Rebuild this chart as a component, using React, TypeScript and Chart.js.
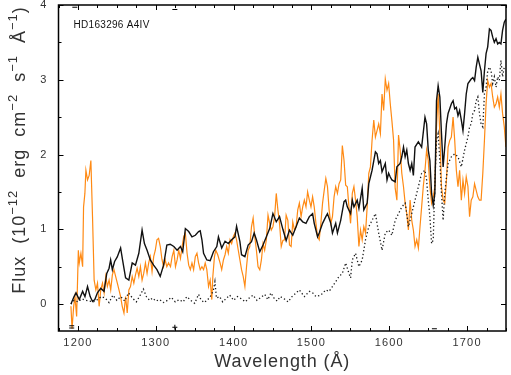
import React, { useEffect, useRef } from "react";
import { Chart, registerables } from "chart.js";

Chart.register(...registerables);

// ---------- data ----------
const starLabel = "HD163296 A4IV";
const xAxisTitle = "Wavelength (Å)";
const xTickValues = [1200, 1300, 1400, 1500, 1600, 1700];
const yTickValues = [0, 1, 2, 3, 4];
const xMin = 1175;
const xMax = 1750;
const yMin = -0.36;
const yMax = 4;

const blackWl = [
  1191, 1195, 1197.5, 1201.7, 1206, 1209, 1212.3, 1215.7, 1218.7, 1221.7, 1225, 1229.3, 1233.5, 1237, 1240, 1242,
  1244.2, 1247.1, 1250.5, 1254.8, 1257.3, 1261.2, 1265.4, 1269.7, 1273.9, 1278.2, 1282.4, 1285.4, 1288.8, 1293,
  1297.2, 1301.5, 1305.7, 1310, 1314.2, 1318.5, 1323.2, 1327.4, 1331.7, 1334.6, 1338, 1342.3, 1346.5, 1350.8, 1355,
  1357.1, 1359.3, 1361.4, 1365.6, 1369.9, 1374.1, 1378.4, 1380.5, 1384.7, 1389, 1393.2, 1397.5, 1401.7, 1403.8,
  1408.1, 1410.2, 1414.5, 1418.7, 1423, 1426.4, 1429.3, 1433.6, 1437.8, 1442.1, 1446.3, 1450.5, 1454.8, 1459, 1463.3,
  1467.5, 1471.8, 1476, 1480.3, 1484.5, 1488.8, 1493, 1497.3, 1501.5, 1503.6, 1507.9, 1510, 1514.3, 1518.5, 1520.6,
  1524.9, 1527, 1531.2, 1533.4, 1537.6, 1541.9, 1544, 1546.1, 1550.3, 1552.5, 1554.6, 1558.8, 1561, 1565.2, 1567.3,
  1571.6, 1573.7, 1577.9, 1582.2, 1584.3, 1586.4, 1588.6, 1590.7, 1594.9, 1597.1, 1599.2, 1601.3, 1603.4, 1607.6,
  1609.8, 1614, 1616.1, 1618.3, 1620.4, 1622.5, 1624.6, 1626.8, 1628.9, 1631, 1633.1, 1637.4, 1641.6, 1645.9, 1648,
  1650.1, 1652.2, 1654.4, 1656.5, 1658.6, 1660.7, 1662.8, 1665, 1667.1, 1669.2, 1671.3, 1673.5, 1675.6, 1679.8, 1682,
  1684.1, 1686.2, 1688.3, 1690.4, 1692.6, 1694.7, 1696.8, 1698.9, 1701.1, 1705.3, 1707.4, 1709.6, 1711.7, 1713.8,
  1715.9, 1718, 1720.2, 1722.3, 1724.4, 1726.5, 1728.7, 1730.8, 1732.9, 1735, 1737.2, 1739.3, 1741.4, 1743.5, 1745.6,
  1747.8, 1749.9,
];
const blackFlux = [
  0.0, 0.1, 0.15, 0.06, 0.17, 0.1, 0.235, 0.1, 0.035, 0.06, 0.15, 0.21, 0.17, 0.41, 0.48, 0.59,
  0.46, 0.57, 0.63, 0.75, 0.59, 0.35, 0.32, 0.55, 0.52, 0.68, 0.99, 0.81, 0.72, 0.59,
  0.52, 0.46, 0.37, 0.52, 0.79, 0.8, 0.77, 0.72, 0.77, 0.7, 1.01, 0.97, 0.9, 0.92, 0.97,
  0.98, 0.86, 0.68, 0.59, 0.58, 0.7, 0.77, 0.9, 0.75, 0.84, 0.81, 0.86, 0.9, 1.04,
  0.835, 0.66, 0.635, 0.79, 0.835, 0.95, 0.86, 0.7, 0.79, 0.9, 1.01, 1.21, 1.1, 1.17, 1.0,
  0.85, 0.99, 0.92, 1.035, 1.15, 1.1, 1.08, 1.17, 1.21, 1.08, 0.9, 0.95, 1.08, 1.17, 1.21,
  1.08, 0.95, 1.08, 0.95, 1.12, 1.37, 1.39, 1.3, 1.21, 1.39, 1.3, 1.39, 1.28, 1.55, 1.26,
  1.35, 1.61, 1.79, 2.035, 2.01, 1.88, 1.92, 1.77, 1.88, 1.66, 1.75, 1.7, 1.66, 1.635,
  1.835, 1.88, 1.97, 2.1, 1.97, 2.06, 1.88, 1.79, 1.88, 1.72, 2.1, 2.17, 2.1, 2.5, 2.41,
  2.06, 1.92, 1.48, 1.32, 1.48, 2.72, 2.92, 2.77, 2.28, 1.835, 2.1, 2.41, 2.55, 2.68, 2.72,
  2.61, 2.63, 2.52, 2.59, 2.46, 2.32, 2.55, 2.81, 2.95, 3.01, 3.03, 2.99, 3.17, 3.3,
  3.21, 3.12, 2.83, 3.12, 3.35, 3.44, 3.68, 3.66, 3.57, 3.5, 3.55, 3.48, 3.5, 3.48, 3.66,
  3.77, 3.81,
];

const orangeWl = [
  1191, 1192.4, 1194.5, 1196.2, 1198.3, 1200.5, 1201.7, 1203.8, 1206, 1207.2, 1208.9, 1210.2, 1212.3, 1214.4, 1216.6,
  1218.7, 1220.8, 1223, 1225.1, 1227.2, 1229.3, 1231.5, 1233.6, 1235.7, 1237.8, 1240, 1242.1, 1244.2, 1246.3, 1248.4,
  1250.6, 1252.7, 1254.8, 1256.9, 1259.1, 1261.2, 1263.3, 1265.4, 1267.5, 1269.7, 1271.8, 1273.9, 1276, 1278.2,
  1280.3, 1282.4, 1284.5, 1286.7, 1288.8, 1290.9, 1293, 1295.2, 1297.3, 1299.4, 1301.5, 1303.6, 1305.8, 1307.9, 1310,
  1312.1, 1314.2, 1316.4, 1318.9, 1321, 1323.2, 1325.3, 1327.4, 1329.5, 1331.7, 1333.8, 1335.9, 1338, 1340.2, 1342.3,
  1344.4, 1346.5, 1348.6, 1350.8, 1352.9, 1355, 1357.1, 1359.3, 1361.4, 1363.5, 1365.6, 1367.8, 1369.9, 1372, 1373.3,
  1375.4, 1377.1, 1379.6, 1382.6, 1384.7, 1386.9, 1389, 1391.1, 1393.2, 1395.4, 1397.5, 1399.6, 1401.7, 1403.8, 1406,
  1408.1, 1410.2, 1412.3, 1414.5, 1416.6, 1418.7, 1420.8, 1423, 1425.1, 1427.2, 1429.3, 1431.4, 1433.6, 1435.7,
  1437.8, 1439.9, 1442.1, 1444.2, 1446.3, 1448.4, 1450.5, 1452.7, 1454.8, 1456.9, 1459, 1461.2, 1463.3, 1465.4,
  1467.5, 1469.7, 1471.8, 1473.9, 1476, 1478.2, 1480.3, 1482.4, 1484.5, 1486.7, 1488.8, 1490.9, 1493, 1495.1, 1497.3,
  1499.4, 1501.5, 1503.6, 1505.8, 1507.9, 1510, 1512.1, 1514.3, 1516.4, 1518.5, 1520.6, 1522.7, 1524.9, 1527, 1529.1,
  1531.2, 1533.4, 1535.5, 1537.6, 1539.7, 1541.9, 1544, 1546.1, 1548.2, 1550.3, 1552.5, 1554.6, 1556.7, 1558.8, 1561,
  1563.1, 1565.2, 1567.3, 1569.5, 1571.6, 1573.7, 1575.8, 1577.9, 1580.1, 1582.2, 1584.3, 1586.4, 1588.6, 1590.7,
  1592.8, 1594.9, 1597.1, 1599.2, 1601.3, 1603.4, 1605.5, 1607.6, 1609.8, 1611.9, 1614, 1616.1, 1618.3, 1620.4,
  1622.5, 1624.6, 1626.8, 1628.9, 1631, 1633.1, 1635.3, 1637.4, 1639.5, 1641.6, 1643.7, 1645.9, 1648, 1650.1, 1652.2,
  1654.4, 1656.5, 1658.6, 1660.7, 1662.8, 1665, 1667.1, 1669.2, 1671.3, 1673.5, 1675.6, 1677.7, 1679.8, 1682, 1684.1,
  1686.2, 1688.3, 1690.4, 1692.6, 1694.7, 1696.8, 1698.9, 1701.1, 1703.2, 1705.3, 1707.4, 1709.6, 1711.7, 1713.8,
  1715.9, 1718, 1720.2, 1722.3, 1724.4, 1726.5, 1728.7, 1730.8, 1732.9, 1735, 1737.2, 1739.3, 1741.4, 1743.5, 1745.6,
  1747.8, 1749.9,
];
const orangeFlux = [
  -0.03, -0.33, -0.03, 0.1, -0.165, 0.72, 0.55, 0.68, 0.5, 1.3, 1.48, 1.79, 1.66, 1.72, 1.92,
  1.17, 0.32, 0.19, 0.28, -0.03, 0.19, 0.28, 0.15, 0.37, 0.235, 0.32, 0.19, 0.39, 0.46, 0.37,
  0.28, 0.19, 0.1, -0.03, -0.12, 0.1, -0.12, 0.19, 0.235, 0.37, 0.28, 0.39, 0.48, 0.37,
  0.5, 0.32, 0.41, 0.55, 0.41, 0.55, 0.635, 0.435, 0.635, 0.72, 0.86, 0.88, 0.77, 0.6, 0.5,
  0.59, 0.5, 0.55, 0.5, 0.635, 0.72, 0.5, 0.59, 0.72, 0.61, 0.77, 0.9, 0.95, 0.68, 0.52,
  0.46, 0.55, 0.46, 0.635, 0.68, 0.55, 0.46, 0.5, 0.46, 0.55, 0.46, 0.235, 0.32, 0.06, 0.37,
  0.635, 0.72, 0.66, 0.55, 0.46, 0.59, 0.66, 0.77, 0.68, 0.86, 0.81, 0.9, 0.95, 0.86, 0.72,
  0.59, 0.46, 0.37, 0.235, 0.5, 0.72, 0.77, 1.035, 1.15, 0.9, 0.72, 0.5, 0.46, 0.59,
  0.81, 0.72, 0.86, 1.19, 1.08, 0.99, 1.035, 1.17, 1.48, 1.26, 1.08, 0.77, 0.85, 0.86,
  1.19, 1.12, 0.79, 0.77, 1.1, 0.99, 1.035, 1.26, 1.35, 1.17, 1.3, 1.39, 1.3, 1.5, 1.39,
  1.3, 1.435, 1.3, 1.08, 0.9, 0.86, 1.08, 1.35, 1.52, 1.68, 1.57, 1.26, 1.08, 1.17, 1.435,
  1.57, 1.48, 1.61, 1.66, 2.12, 1.92, 1.59, 1.57, 1.3, 1.08, 1.48, 1.57, 1.39, 1.17, 0.77,
  0.99, 0.86, 1.035, 0.95, 1.3, 1.75, 1.835, 2.19, 2.46, 2.235, 2.32, 2.41, 2.28, 2.81,
  2.59, 3.01, 2.86, 2.95, 2.68, 2.45, 2.2, 1.55, 1.39, 2.26, 2.06, 1.75, 1.57, 1.35,
  1.21, 0.99, 1.39, 1.12, 0.99, 0.77, 0.86, 0.75, 1.035, 1.3, 1.57, 1.79, 2.06, 1.92, 1.57,
  1.35, 1.435, 1.57, 2.37, 2.81, 2.28, 1.57, 1.39, 1.35, 1.66, 2.1, 2.19, 2.235, 2.5, 2.19,
  1.79, 1.57, 1.79, 1.39, 1.66, 1.48, 1.7, 1.57, 1.17, 1.39, 1.435, 1.61, 1.52, 1.435,
  1.39, 1.39, 1.75, 2.19, 2.68, 2.99, 2.9, 2.95, 2.77, 2.635, 2.68, 2.77, 2.635, 2.81, 2.55,
  2.37, 2.1,
];

const dottedWl = [
  1191, 1195, 1200, 1205, 1210, 1215, 1220, 1225, 1230, 1235, 1240, 1245, 1250, 1255, 1260, 1265, 1270, 1275, 1280,
  1284, 1288, 1292, 1296, 1300, 1305, 1310, 1315, 1320, 1325, 1330, 1335, 1340, 1345, 1350, 1355, 1358, 1362, 1366,
  1370, 1374, 1376, 1378, 1382, 1386, 1390, 1395, 1400, 1405, 1410, 1415, 1420, 1425, 1430, 1435, 1440, 1444, 1448,
  1452, 1456, 1460, 1465, 1470, 1475, 1480.3, 1484.5, 1490.9, 1497.3, 1501.5, 1505.8, 1512.1, 1518.5, 1522.7, 1527,
  1531.2, 1535.5, 1539.7, 1544, 1548.2, 1550.3, 1552.5, 1556.7, 1561, 1565.2, 1569.5, 1573.7, 1577.9, 1582.2, 1584.3,
  1586.4, 1588.6, 1590.7, 1594.9, 1599.2, 1603.4, 1607.6, 1611.9, 1616.1, 1620.4, 1622.5, 1624.6, 1628.9, 1633.1,
  1637.4, 1641.6, 1645.9, 1648, 1650.1, 1652.2, 1654.4, 1656.5, 1658.6, 1660.7, 1662.8, 1665, 1667.1, 1669.2, 1671.3,
  1673.5, 1675.6, 1679.8, 1684.1, 1688.3, 1692.6, 1696.8, 1701.1, 1703.2, 1705.3, 1707.4, 1709.6, 1711.7, 1713.8,
  1715.9, 1718, 1720.2, 1722.3, 1724.4, 1726.5, 1728.7, 1730.8, 1732.9, 1735, 1737.2, 1739.3, 1741.4, 1743.5, 1745.6,
  1747.8,
];
const dottedFlux = [
  0.0, 0.05, 0.03, 0.07, 0.05, 0.04, 0.03, 0.06, 0.1, 0.08, 0.02, 0.12, 0.05, 0.1, 0.04, 0.15, 0.08, 0.03, 0.12,
  0.2, 0.1, 0.05, 0.08, 0.04, 0.06, 0.02, 0.05, 0.09, 0.03, 0.06, 0.03, 0.1, 0.05, 0.01, 0.13, 0.06, 0.02, 0.05,
  0.1, 0.18, 0.3, 0.08, 0.1, 0.03, 0.07, 0.12, 0.05, 0.1, 0.07, 0.03, 0.08, 0.12, 0.05, 0.09, 0.13, 0.06, 0.15,
  0.08, 0.04, 0.1, 0.07, 0.03, 0.1, 0.15, 0.19, 0.1, 0.17, 0.15, 0.1, 0.12, 0.19, 0.17, 0.235,
  0.3, 0.37, 0.41, 0.55, 0.41, 0.35, 0.59, 0.68, 0.5, 0.59, 0.86, 1.035, 1.12, 1.21, 1.08,
  0.95, 0.835, 0.72, 0.95, 0.99, 0.92, 1.12, 1.21, 1.3, 1.35, 1.21, 1.035, 1.21, 1.39,
  1.57, 1.75, 1.79, 1.66, 1.39, 1.17, 0.81, 0.86, 1.61, 2.19, 2.28, 1.92, 1.48, 1.12, 1.48,
  1.7, 1.88, 1.97, 2.01, 1.97, 1.835, 2.06, 2.235, 2.37, 2.41, 2.55, 2.59, 2.72, 2.77,
  2.55, 2.41, 2.37, 2.81, 2.9, 3.12, 3.17, 3.12, 2.95, 3.04, 2.9, 3.04, 2.99, 3.26, 3.04,
  3.17,
];

// small quality-flag marks along the frame
const flagWl = [1192, 1192, 1324.5, 1658, 1196, 1324.5];
const flagFlux = [-0.29, -0.32, -0.31, -0.33, 3.97, 3.94];
const flagStyles = ["line", "line", "cross", "line", "line", "line"];

// ---------- helpers ----------
const toPoints = (xs: number[], ys: number[]) => xs.map((x, i) => ({ x, y: ys[i] }));
const FONT = "'Liberation Sans', Arial, sans-serif";
const TEXT = "#333333";

const framePlugin = {
  id: "frameTicksTitles",
  beforeDraw(chart: any) {
    chart.ctx.letterSpacing = "1.2px";
  },
  afterDraw(chart: any) {
    const ctx = chart.ctx;
    const { left, right, top, bottom } = chart.chartArea;
    const xs = chart.scales.x;
    const ys = chart.scales.y;
    ctx.save();
    ctx.letterSpacing = "0px";
    ctx.strokeStyle = "#000";
    ctx.lineWidth = 1.5;
    ctx.strokeRect(left, top, right - left, bottom - top);
    ctx.lineWidth = 1;
    ctx.beginPath();
    for (let v = xMin; v <= xMax + 0.01; v += 25) {
      const px = Math.round(xs.getPixelForValue(v)) + 0.5;
      const len = v % 100 === 0 ? 5 : 3;
      ctx.moveTo(px, bottom);
      ctx.lineTo(px, bottom - len);
      ctx.moveTo(px, top);
      ctx.lineTo(px, top + len);
    }
    for (let v = 0; v <= yMax + 0.001; v += 0.5) {
      const py = Math.round(ys.getPixelForValue(v)) + 0.5;
      const len = Math.abs(v - Math.round(v)) < 0.01 ? 5 : 3;
      ctx.moveTo(left, py);
      ctx.lineTo(left + len, py);
      ctx.moveTo(right, py);
      ctx.lineTo(right - len, py);
    }
    ctx.stroke();

    // star label
    ctx.fillStyle = "#111";
    ctx.font = `10px ${FONT}`;
    ctx.letterSpacing = "0.3px";
    ctx.textBaseline = "alphabetic";
    ctx.textAlign = "left";
    ctx.fillText(starLabel, left + 15, top + 23);

    // x title
    ctx.fillStyle = TEXT;
    ctx.font = `18px ${FONT}`;
    ctx.letterSpacing = "0.9px";
    ctx.textAlign = "center";
    ctx.fillText(xAxisTitle, (left + right) / 2, 367);

    // y title with superscripts
    const segs: [string, boolean][] = [
      ["Flux  (10", false],
      ["−12", true],
      ["  erg  cm", false],
      ["−2", true],
      ["  s", false],
      ["−1", true],
      ["  Å", false],
      ["−1", true],
      [")", false],
    ];
    const baseFont = `18px ${FONT}`;
    const supFont = `13px ${FONT}`;
    ctx.letterSpacing = "1px";
    ctx.textAlign = "left";
    let total = 0;
    const widths = segs.map(([t, sup]) => {
      ctx.font = sup ? supFont : baseFont;
      const w = ctx.measureText(t).width;
      total += w;
      return w;
    });
    ctx.translate(25, 150);
    ctx.rotate(-Math.PI / 2);
    let cx = -total / 2;
    segs.forEach(([t, sup], i) => {
      ctx.font = sup ? supFont : baseFont;
      ctx.fillText(t, cx, sup ? -8 : 0);
      cx += widths[i];
    });
    ctx.restore();
    ctx.letterSpacing = "0px";
  },
};

export default function App() {
  const canvasRef = useRef<HTMLCanvasElement | null>(null);

  useEffect(() => {
    const canvas = canvasRef.current;
    if (!canvas) return;
    Chart.defaults.font.family = FONT;
    const chart = new Chart(canvas, {
      type: "line",
      data: {
        datasets: [
          {
            label: "model",
            data: toPoints(blackWl, blackFlux),
            borderColor: "#111111",
            borderWidth: 1.4,
            pointRadius: 0,
            tension: 0,
            order: 1,
          },
          {
            label: "background",
            data: toPoints(dottedWl, dottedFlux),
            borderColor: "#1a1a1a",
            borderWidth: 1.3,
            borderDash: [1.3, 2.4],
            pointRadius: 0,
            tension: 0,
            order: 2,
          },
          {
            label: "observed",
            data: toPoints(orangeWl, orangeFlux),
            borderColor: "#ff8a14",
            borderWidth: 1.2,
            pointRadius: 0,
            tension: 0,
            order: 3,
          },
          {
            type: "scatter",
            label: "flags",
            data: toPoints(flagWl, flagFlux),
            showLine: false,
            pointStyle: flagStyles as any,
            pointRadius: 2.5,
            borderColor: "#000",
            borderWidth: 1,
            order: 0,
          } as any,
        ],
      },
      options: {
        responsive: false,
        animation: false,
        parsing: true,
        layout: { padding: { top: 4, right: 1.5, left: 0, bottom: 0 } },
        plugins: {
          legend: { display: false },
          tooltip: { enabled: false },
          title: { display: false },
        },
        scales: {
          x: {
            type: "linear",
            min: xMin,
            max: xMax,
            grid: { display: false, drawTicks: false },
            border: { display: false },
            ticks: {
              color: TEXT,
              font: { size: 11, family: FONT },
              padding: 5,
              maxRotation: 0,
              autoSkip: false,
              callback: (v: any) => String(v),
            },
            afterBuildTicks: (scale: any) => {
              scale.ticks = xTickValues.map((v) => ({ value: v }));
            },
            afterFit: (scale: any) => {
              scale.height = 44;
              scale.paddingLeft = 0;
              scale.paddingRight = 0;
            },
          },
          y: {
            type: "linear",
            min: yMin,
            max: yMax,
            grid: { display: false, drawTicks: false },
            border: { display: false },
            ticks: {
              color: TEXT,
              font: { size: 11, family: FONT },
              padding: 11,
              autoSkip: false,
              callback: (v: any) => String(v),
            },
            afterBuildTicks: (scale: any) => {
              scale.ticks = yTickValues.map((v) => ({ value: v }));
            },
            afterFit: (scale: any) => {
              scale.width = 58.5;
              scale.paddingTop = 0;
              scale.paddingBottom = 0;
            },
          },
        },
      },
      plugins: [framePlugin],
    });
    return () => chart.destroy();
  }, []);

  return (
    <div style={{ position: "fixed", left: 0, top: 0, width: 511, height: 375, background: "#fff" }}>
      <canvas ref={canvasRef} width={511} height={375} style={{ display: "block" }} />
    </div>
  );
}
